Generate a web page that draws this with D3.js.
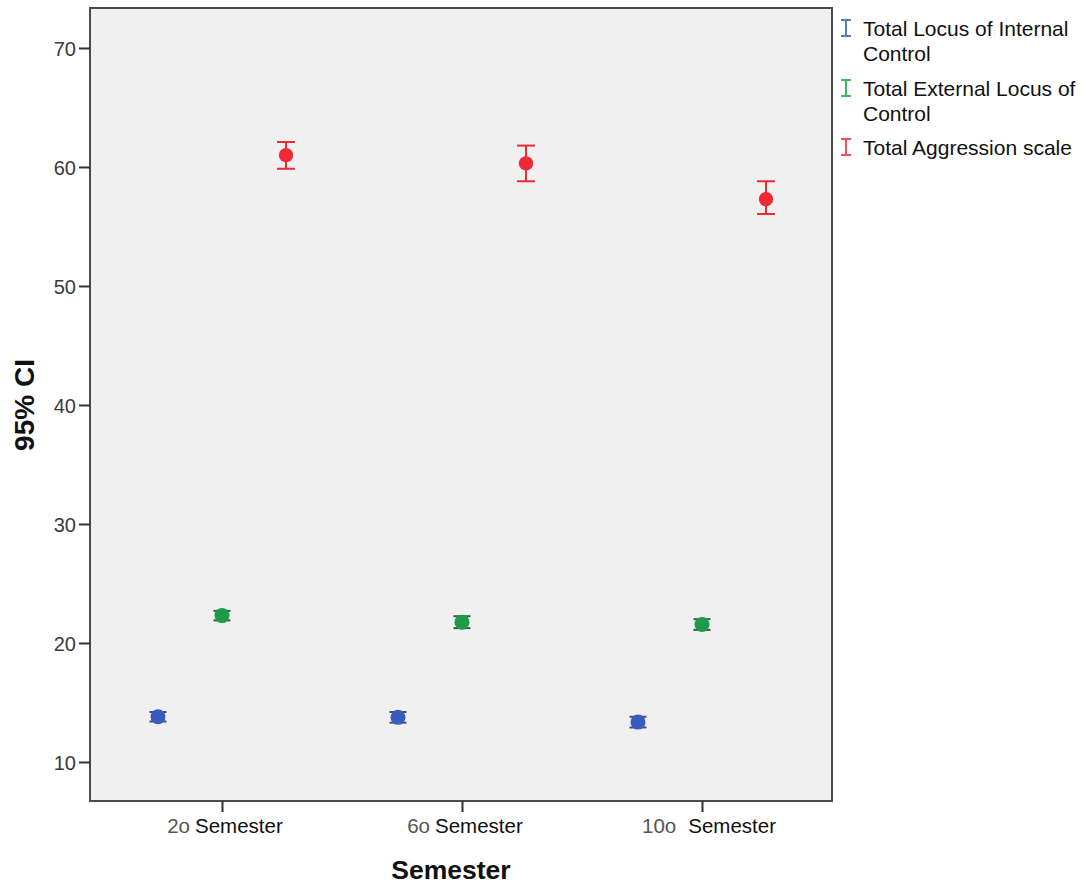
<!DOCTYPE html>
<html><head><meta charset="utf-8">
<script src="https://cdn.jsdelivr.net/npm/d3@7"></script>
<style>
html,body{margin:0;padding:0;background:#fff;}
svg{display:block;font-family:"Liberation Sans",Arial,sans-serif;}
</style></head>
<body>
<svg id="chart" width="1083" height="885"></svg>
<script>
// ---- data ----
const categories = ["2o Semester", "6o Semester", "10o Semester"];
const seriesNames = ["Total Locus of Internal Control", "Total External Locus of Control", "Total Aggression scale"];
const internalMean = [13.8, 13.75, 13.35];
const internalLow  = [13.4, 13.3, 12.9];
const internalHigh = [14.2, 14.2, 13.8];
const externalMean = [22.3, 21.75, 21.55];
const externalLow  = [21.9, 21.25, 21.1];
const externalHigh = [22.7, 22.25, 22.0];
const aggressionMean = [61.0, 60.3, 57.3];
const aggressionLow  = [59.85, 58.8, 56.05];
const aggressionHigh = [62.1, 61.8, 58.8];
const yTicks = [10, 20, 30, 40, 50, 60, 70];

const seriesData = [
  {name: seriesNames[0], mean: internalMean, lo: internalLow, hi: internalHigh},
  {name: seriesNames[1], mean: externalMean, lo: externalLow, hi: externalHigh},
  {name: seriesNames[2], mean: aggressionMean, lo: aggressionLow, hi: aggressionHigh}
];

// ---- styles ----
const markColor = ["#3a5bbf", "#1e9a48", "#ee2a35"];
const capColor = ["#4a4f66", "#3d5546", "#ee2a35"];
const legendColor = ["#5b78c8", "#3cba5a", "#f0505a"];
const markR = [7.5, 7.5, 7.2];
const capW = [17, 17, 18];

const svg = d3.select("#chart");
const L = 90, R = 832, T = 8, B = 801;

const y = d3.scaleLinear().domain([6.72, 73.36]).range([B, T]);
const x = d3.scalePoint().domain(categories).range([222, 702]);
const off = d3.scalePoint().domain(seriesNames).range([-64, 64]);

// plot background
svg.append("rect").attr("x", L).attr("y", T).attr("width", R - L).attr("height", B - T)
  .attr("fill", "#f0f0f0").attr("stroke", "#4a4a4a").attr("stroke-width", 2);

// y axis
const yAxis = svg.append("g").attr("transform", `translate(${L},0)`)
  .call(d3.axisLeft(y).tickValues(yTicks).tickSize(11).tickPadding(3).tickFormat(d3.format("d")));
yAxis.select(".domain").remove();
yAxis.selectAll(".tick line").attr("stroke", "#333").attr("stroke-width", 2);
yAxis.selectAll(".tick text").attr("font-size", 20).attr("fill", "#3a3a3a")
  .attr("font-family", "Liberation Sans, Arial, sans-serif").attr("dy", "0.38em");

// x axis
const xAxis = svg.append("g").attr("transform", `translate(0,${B})`)
  .call(d3.axisBottom(x).tickSize(11).tickFormat(""));
xAxis.select(".domain").remove();
xAxis.selectAll(".tick line").attr("stroke", "#333").attr("stroke-width", 2);

const xl = svg.append("g");
categories.forEach((c, i) => {
  const sp = c.indexOf(" ");
  const pre = c.slice(0, sp), rest = c.slice(sp + 1);
  const t = xl.append("text").attr("x", x(c) + (i === 2 ? 7 : 3)).attr("y", 833)
    .attr("text-anchor", "middle").attr("font-size", 20.5);
  t.append("tspan").attr("fill", "#555").text(pre);
  t.append("tspan").attr("fill", "#111").attr("dx", i === 2 ? 12 : 5).text(rest);
});

// axis titles
svg.append("text").attr("transform", `translate(34,405) rotate(-90)`)
  .attr("text-anchor", "middle").attr("font-size", 28).attr("font-weight", "bold")
  .attr("fill", "#111").text("95% CI");
svg.append("text").attr("x", 451).attr("y", 879).attr("text-anchor", "middle")
  .attr("font-size", 26.5).attr("font-weight", "bold").attr("fill", "#111").text("Semester");

// error bars
seriesData.forEach((s, si) => {
  const g = svg.append("g");
  categories.forEach((c, ci) => {
    const cx = x(c) + off(s.name);
    g.append("line").attr("x1", cx).attr("x2", cx).attr("y1", y(s.lo[ci])).attr("y2", y(s.hi[ci]))
      .attr("stroke", markColor[si]).attr("stroke-width", 2);
    [s.lo[ci], s.hi[ci]].forEach(v => {
      g.append("line").attr("x1", cx - capW[si] / 2).attr("x2", cx + capW[si] / 2)
        .attr("y1", y(v)).attr("y2", y(v)).attr("stroke", capColor[si]).attr("stroke-width", 2);
    });
    g.append("circle").attr("cx", cx).attr("cy", y(s.mean[ci])).attr("r", markR[si])
      .attr("fill", markColor[si]);
  });
});

// legend
const legendLines = [["Total Locus of Internal", "Control"], ["Total External Locus of", "Control"], ["Total Aggression scale"]];
const legendBase = [36, 96, 155];
const lg = svg.append("g");
legendLines.forEach((lines, i) => {
  const by = legendBase[i];
  const iy = by - 1 - 7;
  const ix = 846;
  const col = legendColor[i];
  lg.append("line").attr("x1", ix).attr("x2", ix).attr("y1", iy - 8).attr("y2", iy + 8).attr("stroke", col).attr("stroke-width", 2);
  lg.append("line").attr("x1", ix - 5).attr("x2", ix + 5).attr("y1", iy - 8).attr("y2", iy - 8).attr("stroke", col).attr("stroke-width", 2);
  lg.append("line").attr("x1", ix - 5).attr("x2", ix + 5).attr("y1", iy + 8).attr("y2", iy + 8).attr("stroke", col).attr("stroke-width", 2);
  lines.forEach((ln, k) => {
    lg.append("text").attr("x", 863).attr("y", by + k * 25).attr("font-size", 21).attr("fill", "#111").text(ln);
  });
});
</script>
</body></html>
